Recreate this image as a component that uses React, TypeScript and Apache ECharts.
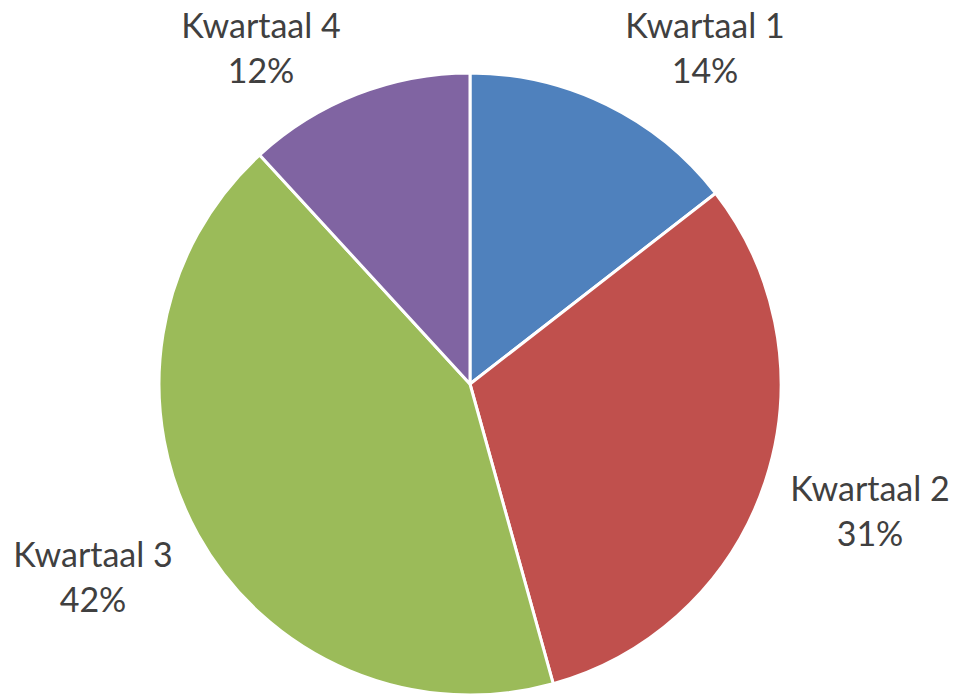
import React, { useEffect, useRef } from "react";
import * as echarts from "echarts";

const categories = ["Kwartaal 1", "Kwartaal 2", "Kwartaal 3", "Kwartaal 4"];
const values = [14.49, 31.2, 42.49, 11.82];
const colors = ["#4F81BD", "#C0504D", "#9BBB59", "#8064A2"];

// label block centres (layout only)
const labelPos: [number, number][] = [
  [705, 47],
  [870, 510],
  [93, 576],
  [261, 47],
];

export default function App() {
  const ref = useRef<HTMLDivElement>(null);
  useEffect(() => {
    if (!ref.current) return;
    const chart = echarts.init(ref.current, null, { renderer: "svg" });
    chart.setOption({
      animation: false,
      backgroundColor: "#ffffff",
      series: [
        {
          type: "pie",
          center: [470, 384],
          radius: 311,
          startAngle: 90,
          clockwise: true,
          data: categories.map((c, i) => ({
            name: c,
            value: values[i],
            itemStyle: { color: colors[i] },
          })),
          itemStyle: { borderColor: "#ffffff", borderWidth: 3 },
          label: {
            show: true,
            position: "outside",
            formatter: (p: any) => `${p.name}\n${Math.round(p.percent)}%`,
            fontFamily: "Lato",
            fontSize: 34,
            lineHeight: 45,
            color: "#404040",
            align: "center",
            overflow: "none",
          },
          labelLine: { show: false },
          labelLayout: (params: any) => {
            const pos = labelPos[params.dataIndex];
            return {
              x: pos[0],
              y: pos[1],
              align: "center",
              verticalAlign: "middle",
            };
          },
          emphasis: { disabled: true },
        },
      ],
    });
    return () => chart.dispose();
  }, []);
  return (
    <div
      ref={ref}
      style={{ position: "fixed", left: 0, top: 0, width: 953, height: 694 }}
    />
  );
}
